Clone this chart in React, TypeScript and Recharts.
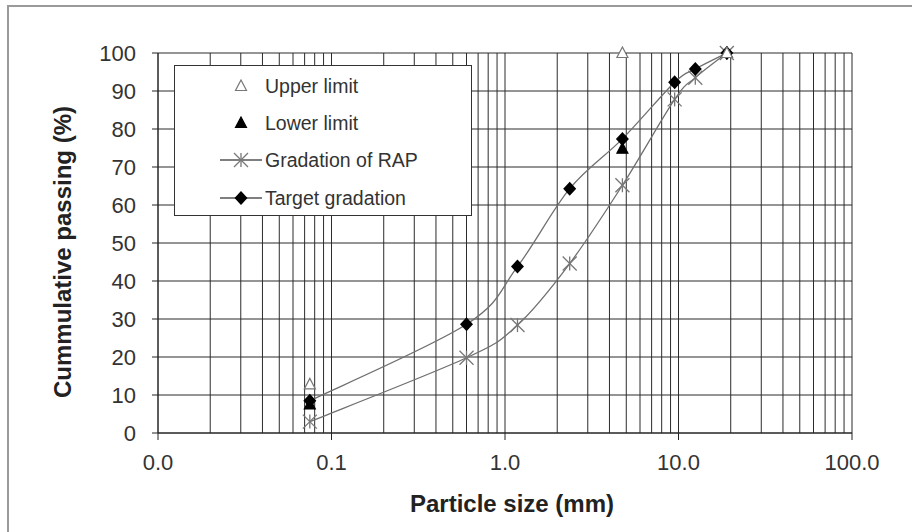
import React from "react";
import {
  ComposedChart,
  Line,
  XAxis,
  YAxis,
  CartesianGrid,
  ReferenceLine,
  Legend,
  Label,
} from "recharts";

// sieve sizes (mm) and % passing
const sieveSizes = [0.075, 0.6, 1.18, 2.36, 4.75, 9.5, 12.5, 19];
const targetPassing = [8.5, 28.6, 43.8, 64.3, 77.4, 92.3, 95.8, 100];
const rapPassing = [3, 19.8, 28.4, 44.6, 65.2, 87.8, 93.5, 100];

const limitSizes = [0.075, 4.75, 19];
const upperLimit = [12.8, 100, 100];
const lowerLimit = [7.5, 74.8, 100];

const xTicks = [0.01, 0.1, 1, 10, 100];
const yTicks = [0, 10, 20, 30, 40, 50, 60, 70, 80, 90, 100];
const minorSteps = [1, 2, 3, 4, 5, 6, 7, 8, 9];
const decades = [0.01, 0.1, 1, 10];

const legendLabels = ["Upper limit", "Lower limit", "Gradation of RAP", "Target gradation"];

const FONT = "'Liberation Sans', Arial, sans-serif";
const LINE_COLOR = "#707070";
const GRID_COLOR = "#2b2b2b";

const toPoints = (xs: number[], ys: number[]) => xs.map((x, i) => ({ size: x, pass: ys[i] }));

const targetData = toPoints(sieveSizes, targetPassing);
const rapData = toPoints(sieveSizes, rapPassing);
const upperData = toPoints(limitSizes, upperLimit);
const lowerData = toPoints(limitSizes, lowerLimit);

// vertical log grid: 1..9 of every decade, plus the last edge
const verticalGrid = [...decades.flatMap((d) => minorSteps.map((m) => +(d * m).toPrecision(3))), 100];

// Excel-like smoothed line (uniform Catmull-Rom through the points)
function smoothCurve(context: any) {
  let pts: number[][] = [];
  return {
    areaStart() {},
    areaEnd() {},
    lineStart() {
      pts = [];
    },
    point(x: number, y: number) {
      pts.push([+x, +y]);
    },
    lineEnd() {
      if (!pts.length) return;
      context.moveTo(pts[0][0], pts[0][1]);
      for (let i = 0; i < pts.length - 1; i++) {
        const p0 = pts[i - 1] || pts[i];
        const p1 = pts[i];
        const p2 = pts[i + 1];
        const p3 = pts[i + 2] || p2;
        context.bezierCurveTo(
          p1[0] + (p2[0] - p0[0]) / 6,
          p1[1] + (p2[1] - p0[1]) / 6,
          p2[0] - (p3[0] - p1[0]) / 6,
          p2[1] - (p3[1] - p1[1]) / 6,
          p2[0],
          p2[1]
        );
      }
    },
  };
}

function Diamond({ cx, cy }: any) {
  if (cx == null || cy == null) return null;
  return <path d={`M${cx},${cy - 7} L${cx + 6.5},${cy} L${cx},${cy + 7} L${cx - 6.5},${cy} Z`} fill="#000" />;
}

function Star({ cx, cy }: any) {
  if (cx == null || cy == null) return null;
  const r = 7;
  return (
    <g stroke="#777" strokeWidth={1.3}>
      <line x1={cx - r} y1={cy - r} x2={cx + r} y2={cy + r} />
      <line x1={cx - r} y1={cy + r} x2={cx + r} y2={cy - r} />
      <line x1={cx} y1={cy - r} x2={cx} y2={cy + r} />
    </g>
  );
}

function Triangle({ cx, cy, filled }: any) {
  if (cx == null || cy == null) return null;
  return (
    <path
      d={`M${cx},${cy - 6} L${cx + 5.5},${cy + 4.5} L${cx - 5.5},${cy + 4.5} Z`}
      fill={filled ? "#000" : "#fff"}
      stroke={filled ? "#000" : "#777"}
      strokeWidth={1.2}
    />
  );
}

function LegendBox() {
  const rowY = [20, 57, 94, 132];
  return (
    <div
      style={{
        width: 298,
        height: 151,
        background: "#fff",
        border: "1.5px solid #333",
        boxSizing: "border-box",
      }}
    >
      <svg width={296} height={149}>
        {legendLabels.map((label, i) => {
          const y = rowY[i];
          const mx = 66;
          return (
            <g key={label}>
              {i >= 2 && <line x1={45} x2={87} y1={y} y2={y} stroke="#555" strokeWidth={1.3} />}
              {i === 0 && <Triangle cx={mx} cy={y} />}
              {i === 1 && <Triangle cx={mx} cy={y} filled />}
              {i === 2 && <Star cx={mx} cy={y} />}
              {i === 3 && <Diamond cx={mx} cy={y} />}
              <text x={90} y={y} dominantBaseline="central" fontFamily={FONT} fontSize={19.5} fill="#333">
                {label}
              </text>
            </g>
          );
        })}
      </svg>
    </div>
  );
}

export default function App() {
  return (
    <div style={{ position: "absolute", left: 0, top: 0, width: 912, height: 532, background: "#fff" }}>
      <div
        style={{
          position: "absolute",
          left: 7,
          top: 5,
          width: 912,
          height: 540,
          borderLeft: "2px solid #9a9a9a",
          borderTop: "2px solid #9a9a9a",
        }}
      />
      <ComposedChart
        width={912}
        height={532}
        margin={{ top: 53, right: 60, bottom: 39, left: 0 }}
        style={{ position: "absolute", left: 0, top: 0 }}
      >
        <CartesianGrid vertical={false} stroke={GRID_COLOR} strokeWidth={1} strokeOpacity={1} />
        {verticalGrid.map((v) => (
          <ReferenceLine key={v} x={v} stroke={GRID_COLOR} strokeWidth={1} />
        ))}
        <XAxis
          dataKey="size"
          type="number"
          scale="log"
          domain={[0.01, 100]}
          allowDataOverflow
          ticks={xTicks}
          tickFormatter={(v: number) => v.toFixed(1)}
          height={60}
          tickSize={7}
          tickMargin={14}
          stroke="#222"
          tick={{ fill: "#333", fontSize: 22, fontFamily: FONT }}
        >
          <Label
            content={() => (
              <text x={512} y={503} textAnchor="middle" dominantBaseline="central" fontFamily={FONT} fontSize={24} fontWeight="bold" fill="#222">
                Particle size (mm)
              </text>
            )}
          />
        </XAxis>
        <YAxis
          type="number"
          domain={[0, 100]}
          ticks={yTicks}
          width={158}
          tickSize={6}
          tickMargin={16}
          stroke="#222"
          tick={{ fill: "#333", fontSize: 22, fontFamily: FONT }}
        >
          <Label
            content={() => (
              <text
                transform="translate(62,252) rotate(-90)"
                textAnchor="middle"
                dominantBaseline="central"
                fontFamily={FONT}
                fontSize={24}
                fontWeight="bold"
                fill="#222"
              >
                Cummulative passing (%)
              </text>
            )}
          />
        </YAxis>
        <Legend
          layout="horizontal"
          verticalAlign="middle"
          align="center"
          wrapperStyle={{ left: 174, top: 65, width: 298, height: 151 }}
          content={() => <LegendBox />}
        />
        <Line
          data={rapData}
          dataKey="pass"
          name="Gradation of RAP"
          type={smoothCurve as any}
          stroke={LINE_COLOR}
          strokeWidth={1.3}
          dot={(p: any) => <Star key={p.index} {...p} />}
          isAnimationActive={false}
        />
        <Line
          data={targetData}
          dataKey="pass"
          name="Target gradation"
          type={smoothCurve as any}
          stroke={LINE_COLOR}
          strokeWidth={1.3}
          dot={(p: any) => <Diamond key={p.index} {...p} />}
          isAnimationActive={false}
        />
        <Line
          data={lowerData}
          dataKey="pass"
          name="Lower limit"
          stroke="none"
          dot={(p: any) => <Triangle key={p.index} {...p} filled />}
          isAnimationActive={false}
        />
        <Line
          data={upperData}
          dataKey="pass"
          name="Upper limit"
          stroke="none"
          dot={(p: any) => <Triangle key={p.index} {...p} />}
          isAnimationActive={false}
        />
      </ComposedChart>
    </div>
  );
}
